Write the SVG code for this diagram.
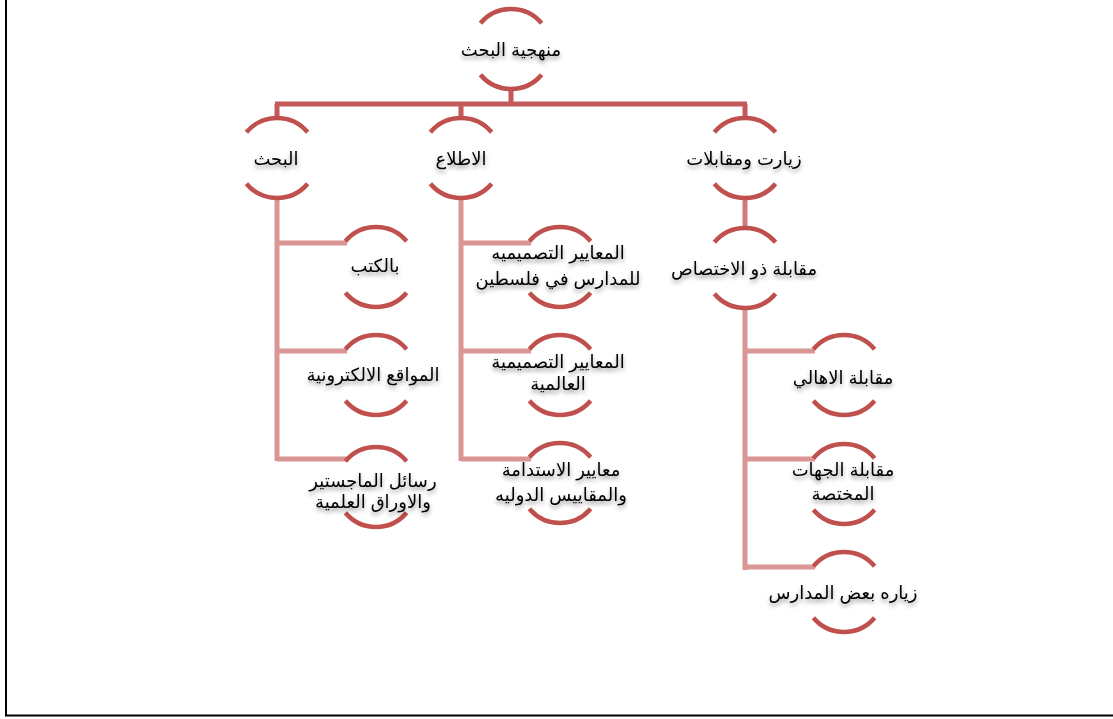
<svg xmlns="http://www.w3.org/2000/svg" width="1113" height="719" viewBox="0 0 1113 719">
<style>
.arc{fill:none;stroke:#c0504d;stroke-width:4.5}
.c1{fill:none;stroke:#c4595a;stroke-width:5}
.c2{fill:none;stroke:#d07a79;stroke-width:5}
.c3{fill:none;stroke:#d99694;stroke-width:5}
.t{font-family:"Liberation Sans","DejaVu Sans",sans-serif;font-size:18px;fill:#000;text-anchor:middle;direction:rtl;filter:url(#sh)}
.frame{stroke:#000;stroke-width:2;fill:none}
</style>
<defs>
<filter id="sh" x="-20%" y="-40%" width="140%" height="200%">
<feDropShadow dx="0" dy="3" stdDeviation="2" flood-color="#000" flood-opacity="0.4"/>
</filter>
<path id="arcs" class="arc" d="M-30.6,-25.7 A40,40 0 0 1 30.6,-25.7 M-30.6,25.7 A40,40 0 0 0 30.6,25.7"/>
</defs>
<rect width="1113" height="719" fill="#fff"/>
<path class="frame" d="M6,0 V715.5 H1113"/>
<g id="connectors">
<path class="c1" d="M511,89 V104 M275,104 H747 M277,104 V118 M461,104 V118 M745,104 V118"/>
<path class="c2" d="M745,198 V228"/>
<path class="c3" d="M277,198 V461 M277,243 H347 M277,351 H347 M277,459 H347"/>
<path class="c3" d="M461,198 V461 M461,243 H531 M461,351 H531 M461,459 H531"/>
<path class="c3" d="M745,308 V570 M745,351 H815 M745,459 H815 M745,567 H815"/>
</g>
<g id="n0"><use href="#arcs" x="511" y="49"/><text class="t" x="511" y="56">منهجية البحث</text></g>
<g id="n1"><use href="#arcs" x="277" y="158"/><text class="t" x="276" y="165">البحث</text></g>
<g id="n2"><use href="#arcs" x="461" y="158"/><text class="t" x="461" y="165">الاطلاع</text></g>
<g id="n3"><use href="#arcs" x="745" y="158"/><text class="t" x="744" y="165">زيارت ومقابلات</text></g>
<g id="n4"><use href="#arcs" x="376" y="267"/><text class="t" x="375" y="272">بالكتب</text></g>
<g id="n5"><use href="#arcs" x="376" y="375"/><text class="t" x="373" y="381">المواقع الالكترونية</text></g>
<g id="n6"><use href="#arcs" x="376" y="487"/><text class="t" x="373" y="487">رسائل الماجستير</text><text class="t" x="373" y="508">والاوراق العلمية</text></g>
<g id="n7"><use href="#arcs" x="560" y="267"/><text class="t" x="558" y="259">المعايير التصميميه</text><text class="t" x="558" y="285">للمدارس في فلسطين</text></g>
<g id="n8"><use href="#arcs" x="560" y="375"/><text class="t" x="558" y="368">المعايير التصميمية</text><text class="t" x="558" y="390">العالمية</text></g>
<g id="n9"><use href="#arcs" x="560" y="483"/><text class="t" x="561" y="476">معايير الاستدامة</text><text class="t" x="561" y="501">والمقاييس الدوليه</text></g>
<g id="n10"><use href="#arcs" x="745" y="268"/><text class="t" x="744" y="275">مقابلة ذو الاختصاص</text></g>
<g id="n11"><use href="#arcs" x="844" y="375"/><text class="t" x="843" y="384">مقابلة الاهالي</text></g>
<g id="n12"><use href="#arcs" x="844" y="484"/><text class="t" x="843" y="476">مقابلة الجهات</text><text class="t" x="843" y="500">المختصة</text></g>
<g id="n13"><use href="#arcs" x="844" y="592"/><text class="t" x="843" y="599">زياره بعض المدارس</text></g>
</svg>
